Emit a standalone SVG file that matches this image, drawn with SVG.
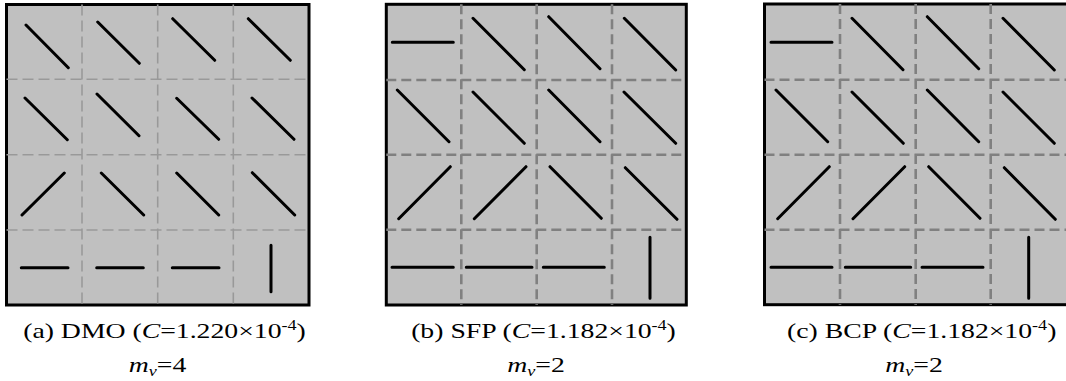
<svg xmlns="http://www.w3.org/2000/svg" width="1066" height="381" viewBox="0 0 1066 381">
<style>
.box{fill:#c0c0c0;stroke:#000;stroke-width:3}
.ga{stroke:#999;stroke-width:1.6;stroke-dasharray:11 5;fill:none}
.gb{stroke:#808080;stroke-width:2.6;stroke-dasharray:10 5;fill:none}
.f{stroke:#000;stroke-width:3;stroke-linecap:round;fill:none}
.t{font-family:"Liberation Serif","Times New Roman",serif;font-size:21.5px;fill:#000}
.i{font-style:italic}
</style>
<rect width="1066" height="381" fill="#fff"/>
<g id="panel-a">
<rect class="box" x="6.5" y="4.5" width="302.5" height="300.5"/>
<path class="ga" d="M82,4.5V305M157.7,4.5V305M233.3,4.5V305M6.5,79.3H309M6.5,154.7H309M6.5,230H309"/>
<path class="f" d="M26,25L68.3,67.7M97.7,22L139.3,63.3M172.7,18.7L214.7,60.3M248.3,18.7L290.3,60.3
M25,98L67.3,139.7M97,94L139,135.7M176.7,98.3L218.7,139.3M252,98L294,139.3
M22,215L64.3,173M101.3,173L143.7,215M176.7,173L218.7,215M252.3,172.7L294.7,215
M21.3,267.7H68M96.7,267.7H143.3M172.3,267.7H219M271,245.3V291.7"/>
<text class="t" text-anchor="middle" transform="translate(164.5,337.5) scale(1.29,1)">(a) DMO (<tspan class="i">C</tspan>=1.220×10<tspan font-size="14" dy="-8">-4</tspan><tspan dy="8">)</tspan></text>
<text class="t" text-anchor="middle" transform="translate(157.5,371.5) scale(1.29,1)"><tspan class="i">m</tspan><tspan class="i" font-size="14" dy="4">v</tspan><tspan dy="-4">=4</tspan></text>
</g>
<g id="panel-b">
<rect class="box" x="386.3" y="4.3" width="300" height="300.7"/>
<path class="gb" d="M461.3,4.3V305M536.7,4.3V305M612,4.3V305M386.3,80H686.3M386.3,154.7H686.3M386.3,229.7H686.3"/>
<path class="f" d="M392.3,42.3H453.3M473,18.3L524.3,69.7M548.7,16.7L600,68.7M624.3,18.3L675.7,70
M397.3,90L449,141.7M473,92L524.3,143.3M548.7,90L600,141.7M624,92L675.7,143.3
M398.7,218.7L450.3,166.7M474.3,218.7L526,166.7M550,166.7L601.3,218.3M625.3,167.7L677,219.3
M392,267.3H453.3M466.3,267.3H532M543.3,267.3H604.3M650,237.3V298.3"/>
<text class="t" text-anchor="middle" transform="translate(543.5,337.5) scale(1.29,1)">(b) SFP (<tspan class="i">C</tspan>=1.182×10<tspan font-size="14" dy="-8">-4</tspan><tspan dy="8">)</tspan></text>
<text class="t" text-anchor="middle" transform="translate(536,371.5) scale(1.29,1)"><tspan class="i">m</tspan><tspan class="i" font-size="14" dy="4">v</tspan><tspan dy="-4">=2</tspan></text>
</g>
<g id="panel-c">
<rect class="box" x="764.5" y="4" width="303" height="300.7"/>
<path class="gb" d="M840,4V304.7M915.7,4V304.7M990.7,4V304.7M764.5,79.7H1067M764.5,154.7H1067M764.5,229.7H1067"/>
<path class="f" d="M771,42.3H832M852,18.3L903,69.7M927.3,16.7L978.7,68.7M1003,18.3L1054.3,70
M776,90L827.7,141.7M852,92L903.3,143.3M927.3,90L978.7,141.7M1003,92L1054.3,143.3
M777.7,218.7L829.3,166.7M853,218.7L904.7,166.7M928.7,166.7L980,218.3M1004.3,167.7L1055.3,219.3
M771,267.3H832M845.3,267.3H910.7M922,267.3H983M1028.7,237.3V298.3"/>
<text class="t" text-anchor="middle" transform="translate(921.7,337.5) scale(1.29,1)">(c) BCP (<tspan class="i">C</tspan>=1.182×10<tspan font-size="14" dy="-8">-4</tspan><tspan dy="8">)</tspan></text>
<text class="t" text-anchor="middle" transform="translate(914,371.5) scale(1.29,1)"><tspan class="i">m</tspan><tspan class="i" font-size="14" dy="4">v</tspan><tspan dy="-4">=2</tspan></text>
</g>
</svg>
